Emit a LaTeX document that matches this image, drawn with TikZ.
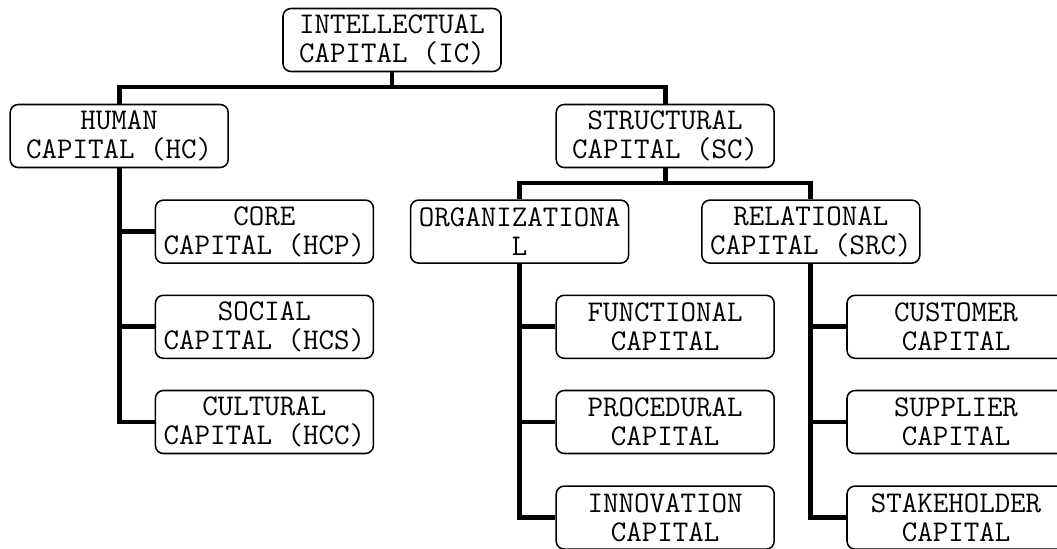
\documentclass[tikz,border=0pt]{standalone}
\usepackage{fontspec}
\usepackage{tikz}
\usetikzlibrary{positioning, calc}

\begin{document}
\begin{tikzpicture}[
        capbox/.style={draw, line width=1.1pt, rounded corners=0.2cm,
            minimum width=5.45cm, minimum height=1.575cm, inner sep=0pt,
            align=center, font=\ttfamily\fontsize{21.4}{20.6}\selectfont},
        link/.style={line width=3.5pt}
    ]

            % Page frame
            \useasboundingbox (0,0) rectangle (26.425,-13.7);

            % Top level
            \node[capbox] (ic) at (9.8, -1.0) {INTELLECTUAL\\CAPITAL (IC)};

            % Second level
            \node[capbox] (hc) at (2.98, -3.4) {HUMAN\\CAPITAL (HC)};
            \node[capbox] (sc) at (16.63, -3.4) {STRUCTURAL\\CAPITAL (SC)};

            % Human capital parts
            \node[capbox] (hcp) at (6.61, -5.79) {CORE\\CAPITAL (HCP)};
            \node[capbox] (hcs) at (6.61, -8.17) {SOCIAL\\CAPITAL (HCS)};
            \node[capbox] (hcc) at (6.61, -10.55) {CULTURAL\\CAPITAL (HCC)};

            % Structural capital parts
            \node[capbox] (org) at (12.99, -5.79) {ORGANIZATIONA\\L};
            \node[capbox] (src) at (20.27, -5.79) {RELATIONAL\\CAPITAL (SRC)};

            % Organizational parts
            \node[capbox] (fun) at (16.63, -8.17) {FUNCTIONAL\\CAPITAL};
            \node[capbox] (pro) at (16.63, -10.55) {PROCEDURAL\\CAPITAL};
            \node[capbox] (inn) at (16.63, -12.94) {INNOVATION\\CAPITAL};

            % Relational parts
            \node[capbox] (cus) at (23.9, -8.17) {CUSTOMER\\CAPITAL};
            \node[capbox] (sup) at (23.9, -10.55) {SUPPLIER\\CAPITAL};
            \node[capbox] (sta) at (23.9, -12.94) {STAKEHOLDER\\CAPITAL};

            % Bus lines
            \coordinate (icbus) at (9.8, -2.175);
            \coordinate (scbus) at (16.63, -4.575);

            \draw[link] (ic.south) -- (icbus);
            \draw[link] (hc.north) |- (icbus) -| (sc.north);
            \draw[link] (sc.south) -- (scbus);
            \draw[link] (org.north) |- (scbus) -| (src.north);

            % Human capital branches
            \draw[link] (hc.south) |- (hcc.west);
            \draw[link] (hcp.west) -- (hcp.west -| hc.south);
            \draw[link] (hcs.west) -- (hcs.west -| hc.south);

            % Organizational branches
            \draw[link] (org.south) |- (inn.west);
            \draw[link] (fun.west) -- (fun.west -| org.south);
            \draw[link] (pro.west) -- (pro.west -| org.south);

            % Relational branches
            \draw[link] (src.south) |- (sta.west);
            \draw[link] (cus.west) -- (cus.west -| src.south);
            \draw[link] (sup.west) -- (sup.west -| src.south);

\end{tikzpicture}
\end{document}
